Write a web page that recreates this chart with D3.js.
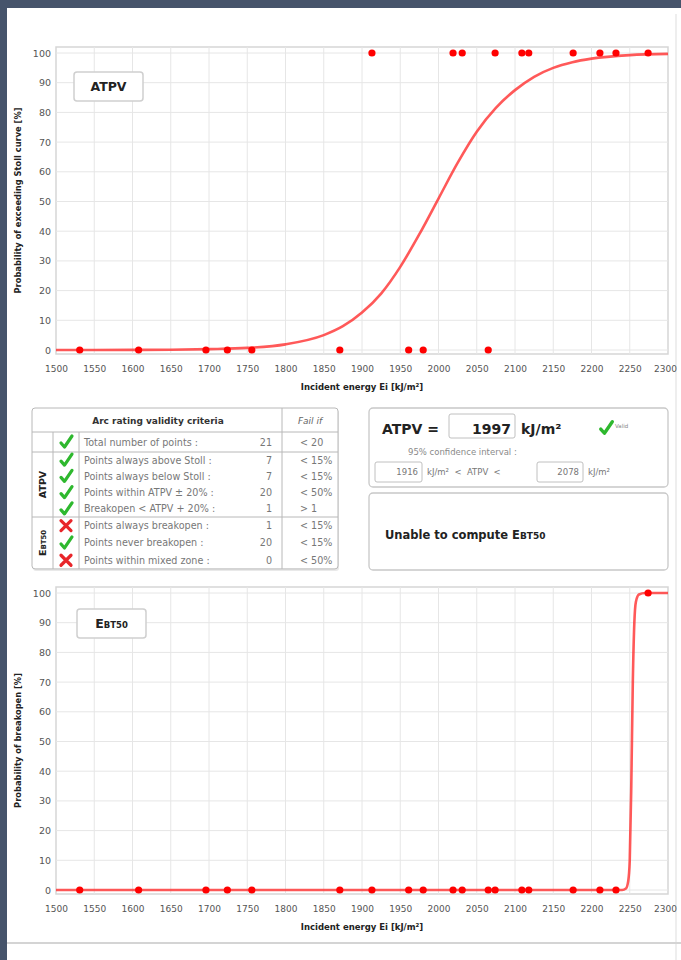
<!DOCTYPE html>
<html>
<head>
<meta charset="utf-8">
<script src="https://cdn.jsdelivr.net/npm/d3@7"></script>
<style>
  body { margin: 0; background: #fff; }
  svg { display: block; }
  text { font-family: "DejaVu Sans", Verdana, sans-serif; }
</style>
</head>
<body>
<script>
// test points: incident energy (kJ/m²) and outcome (0 / 100 %)
const energies    = [1531, 1608, 1696, 1724, 1756, 1871, 1913, 1961, 1980, 2019, 2031, 2065, 2074, 2109, 2118, 2176, 2211, 2232, 2274]
const exceedStoll = [0, 0, 0, 0, 0, 0, 100, 0, 0, 100, 100, 0, 100, 100, 100, 100, 100, 100, 100]
const breakopen   = [0, 0, 0, 0, 0, 0, 0, 0, 0, 0, 0, 0, 0, 0, 0, 0, 0, 0, 100]

// fitted curves
const stollCurveE = [1500, 1550, 1600, 1650, 1700, 1750, 1800, 1850, 1875, 1900, 1925, 1950, 1975, 2000, 2025, 2050, 2075, 2100, 2125, 2150, 2175, 2200, 2250, 2300]
const stollCurveP = [0, 0.01, 0.04, 0.1, 0.3, 0.7, 1.9, 5, 8, 12.6, 19, 28, 39, 51, 63, 73.5, 81.5, 87.5, 92, 95, 96.9, 98.1, 99.3, 99.7]
const breakCurveE = [1500, 2240, 2245, 2248, 2250, 2252, 2254, 2256, 2258, 2262, 2270, 2300]
const breakCurveP = [0, 0, 0.5, 3, 10, 35, 70, 90, 97, 99.5, 100, 100]

const xTicks = [1500, 1550, 1600, 1650, 1700, 1750, 1800, 1850, 1900, 1950, 2000, 2050, 2100, 2150, 2200, 2250, 2300]
const yTicks = [0, 10, 20, 30, 40, 50, 60, 70, 80, 90, 100]

// validity criteria table
const critLabels = ['Total number of points :', 'Points always above Stoll :', 'Points always below Stoll :',
  'Points within ATPV ± 20% :', 'Breakopen < ATPV + 20% :', 'Points always breakopen :',
  'Points never breakopen :', 'Points within mixed zone :']
const critValues = [21, 7, 7, 20, 1, 1, 20, 0]
const critLimits = ['< 20', '< 15%', '< 15%', '< 50%', '>  1', '< 15%', '< 15%', '< 50%']
const critOk     = [true, true, true, true, true, false, true, false]

const atpvValue = 1997
const atpvLow = 1916
const atpvHigh = 2078

const W = 681, H = 960
const svg = d3.select('body').append('svg').attr('width', W).attr('height', H)

// page frame
svg.append('rect').attr('width', W).attr('height', H).attr('fill', '#fff')
svg.append('rect').attr('width', W).attr('height', 8).attr('fill', '#46546b')
svg.append('rect').attr('width', 7).attr('height', H).attr('fill', '#46546b')
svg.append('line').attr('x1', 676).attr('x2', 676).attr('y1', 14).attr('y2', H)
  .attr('stroke', '#e8e8e8').attr('stroke-width', 1.5)
svg.append('line').attr('x1', 7).attr('x2', W).attr('y1', 943).attr('y2', 943)
  .attr('stroke', '#d4d4d4').attr('stroke-width', 2)

const x = d3.scaleLinear().domain([1500, 2300]).range([56, 668])

function drawChart (top, yTitle, outcome, curveE, curveP, tag) {
  const bottom = top + 307
  const y = d3.scaleLinear().domain([0, 100]).range([top + 303, top + 6])
  const g = svg.append('g')

  g.append('rect').attr('x', 56).attr('y', top).attr('width', 612).attr('height', 307)
    .attr('fill', '#fff').attr('stroke', '#d6d6d6').attr('stroke-width', 1.5)
  g.selectAll('.vg').data(xTicks.slice(1, -1)).enter().append('line')
    .attr('x1', d => x(d)).attr('x2', d => x(d)).attr('y1', top).attr('y2', bottom)
    .attr('stroke', '#e6e6e6')
  g.selectAll('.hg').data(yTicks).enter().append('line')
    .attr('x1', 56).attr('x2', 668).attr('y1', d => y(d)).attr('y2', d => y(d))
    .attr('stroke', '#e6e6e6')

  const ax = g.append('g').attr('transform', `translate(0,${bottom + 12})`)
    .call(d3.axisBottom(x).tickValues(xTicks).tickFormat(d3.format('d')).tickSize(0).tickPadding(0))
  ax.select('.domain').remove()
  ax.selectAll('text').attr('font-size', 9).attr('fill', '#555')
    .style('font-family', '"DejaVu Sans", Verdana, sans-serif')
  ax.selectAll('.tick:last-of-type text').attr('dx', -3)

  const ay = g.append('g').attr('transform', 'translate(56,0)')
    .call(d3.axisLeft(y).tickValues(yTicks).tickFormat(d3.format('d')).tickSize(0).tickPadding(5))
  ay.select('.domain').remove()
  ay.selectAll('text').attr('font-size', 9.5).attr('fill', '#555')
    .style('font-family', '"DejaVu Sans", Verdana, sans-serif')

  g.append('text').attr('x', 362).attr('y', bottom + 36).attr('text-anchor', 'middle')
    .attr('font-size', 8.5).attr('font-weight', 'bold').attr('fill', '#222')
    .text('Incident energy Ei [kJ/m²]')
  g.append('text').attr('transform', `translate(21,${(top + bottom) / 2}) rotate(-90)`)
    .attr('text-anchor', 'middle').attr('font-size', 8.3).attr('font-weight', 'bold').attr('fill', '#222')
    .text(yTitle)

  const line = d3.line().x((d, i) => x(curveE[i])).y(d => y(d)).curve(d3.curveMonotoneX)
  g.append('path').datum(curveP).attr('d', line).attr('fill', 'none')
    .attr('stroke', '#ff3030').attr('stroke-opacity', 0.8).attr('stroke-width', 2.6)

  g.selectAll('.pt').data(energies).enter().append('circle')
    .attr('cx', d => x(d)).attr('cy', (d, i) => y(outcome[i])).attr('r', 3.6)
    .attr('fill', '#ff0000')

  // tag box
  const tb = g.append('g').attr('transform', `translate(${tag.x},${top + tag.dy})`)
  tb.append('rect').attr('width', 69).attr('height', 29).attr('rx', 3)
    .attr('fill', '#fff').attr('stroke', '#cfcfcf').attr('stroke-width', 1.5)
  const tt = tb.append('text').attr('x', 34.5).attr('y', 19).attr('text-anchor', 'middle')
    .attr('font-weight', 'bold').attr('fill', '#222')
  tag.parts.forEach(p => tt.append('tspan').attr('font-size', p[1]).text(p[0]))
}

drawChart(47, 'Probability of exceeding Stoll curve [%]', exceedStoll, stollCurveE, stollCurveP,
  { x: 74, dy: 25, parts: [['ATPV', 12.5]] })
drawChart(587, 'Probability of breakopen [%]', breakopen, breakCurveE, breakCurveP,
  { x: 77, dy: 22, parts: [['E', 12.5], ['BT50', 8.5]] })

// icons
function check (g, cx, cy, s) {
  g.append('path').attr('d', `M${cx - 5 * s},${cy + 1 * s} L${cx - 1.5 * s},${cy + 5 * s} L${cx + 6 * s},${cy - 6 * s}`)
    .attr('fill', 'none').attr('stroke', '#2eb82e').attr('stroke-width', 3.2 * s)
    .attr('stroke-linecap', 'round').attr('stroke-linejoin', 'round')
}
function cross (g, cx, cy) {
  g.append('path').attr('d', `M${cx - 5},${cy - 5} L${cx + 5},${cy + 5} M${cx + 5},${cy - 5} L${cx - 5},${cy + 5}`)
    .attr('fill', 'none').attr('stroke', '#e8262a').attr('stroke-width', 3.2).attr('stroke-linecap', 'round')
}

// criteria table
const tg = svg.append('g')
const rowH = [20, 16.25, 16.25, 16.25, 16.25, 17.3, 17.3, 17.3]
const rowTop = []
let acc = 432
rowH.forEach(h => { rowTop.push(acc); acc += h })
const tBottom = acc

tg.append('rect').attr('x', 33).attr('y', 410).attr('width', 306).attr('height', tBottom - 408)
  .attr('rx', 3).attr('fill', '#e9e9e9')
tg.append('rect').attr('x', 32).attr('y', 408).attr('width', 306).attr('height', tBottom - 408)
  .attr('rx', 3).attr('fill', '#fff').attr('stroke', '#b8b8b8')
;[432, rowTop[1], rowTop[5]].forEach(yy => {
  tg.append('line').attr('x1', 32).attr('x2', 338).attr('y1', yy).attr('y2', yy).attr('stroke', '#b8b8b8')
})
;[[53, 432], [79, 432], [282, 408]].forEach(v => {
  tg.append('line').attr('x1', v[0]).attr('x2', v[0]).attr('y1', v[1]).attr('y2', tBottom).attr('stroke', '#b8b8b8')
})
tg.append('text').attr('x', 158).attr('y', 424).attr('text-anchor', 'middle')
  .attr('font-size', 9).attr('font-weight', 'bold').attr('fill', '#333').text('Arc rating validity criteria')
tg.append('text').attr('x', 310).attr('y', 424).attr('text-anchor', 'middle')
  .attr('font-size', 9).attr('font-style', 'italic').attr('fill', '#666').text('Fail if')

critLabels.forEach((lab, i) => {
  const cy = rowTop[i] + rowH[i] / 2
  if (critOk[i]) check(tg, 66, cy, 1); else cross(tg, 66, cy)
  tg.append('text').attr('x', 84).attr('y', cy + 3.5).attr('font-size', 9.6).attr('fill', '#777').text(lab)
  tg.append('text').attr('x', 272).attr('y', cy + 3.5).attr('text-anchor', 'end')
    .attr('font-size', 9.6).attr('fill', '#777').text(critValues[i])
  tg.append('text').attr('x', 300).attr('y', cy + 3.5)
    .attr('font-size', 9.6).attr('fill', '#777').text(critLimits[i])
})
const grpLabel = (txt, y0, y1, parts) => {
  const t = tg.append('text').attr('transform', `translate(46,${(y0 + y1) / 2}) rotate(-90)`)
    .attr('text-anchor', 'middle').attr('font-weight', 'bold').attr('fill', '#222')
  parts.forEach(p => t.append('tspan').attr('font-size', p[1]).text(p[0]))
}
grpLabel('ATPV', rowTop[1], rowTop[5], [['ATPV', 9.5]])
grpLabel('EBT50', rowTop[5], tBottom, [['E', 9.5], ['BT50', 7]])

// ATPV result panel
const pg = svg.append('g')
pg.append('rect').attr('x', 369).attr('y', 408).attr('width', 299).attr('height', 79).attr('rx', 4)
  .attr('fill', '#fff').attr('stroke', '#c8c8c8').attr('stroke-width', 1.3)
pg.append('text').attr('x', 382).attr('y', 434).attr('font-size', 14).attr('font-weight', 'bold')
  .attr('fill', '#222').text('ATPV =')
pg.append('rect').attr('x', 449).attr('y', 414).attr('width', 66).attr('height', 24).attr('rx', 2)
  .attr('fill', '#fff').attr('stroke', '#c0c0c0')
pg.append('text').attr('x', 511).attr('y', 434).attr('text-anchor', 'end').attr('font-size', 14)
  .attr('font-weight', 'bold').attr('fill', '#222').text(atpvValue)
pg.append('text').attr('x', 521).attr('y', 434).attr('font-size', 14).attr('font-weight', 'bold')
  .attr('fill', '#222').text('kJ/m²')
check(pg, 606, 428, 1.05)
pg.append('text').attr('x', 615).attr('y', 428).attr('font-size', 5.5).attr('fill', '#888').text('Valid')
pg.append('text').attr('x', 408).attr('y', 455).attr('font-size', 8.5).attr('fill', '#8a8a8a')
  .text('95% confidence interval :')
pg.append('rect').attr('x', 375).attr('y', 462).attr('width', 47).attr('height', 20).attr('rx', 2)
  .attr('fill', '#fff').attr('stroke', '#c0c0c0')
pg.append('text').attr('x', 418).attr('y', 475).attr('text-anchor', 'end').attr('font-size', 8.5)
  .attr('fill', '#777').text(atpvLow)
pg.append('text').attr('x', 427).attr('y', 475).attr('font-size', 8.5).attr('fill', '#777')
  .attr('xml:space', 'preserve').text('kJ/m²  <  ATPV  <')
pg.append('rect').attr('x', 537).attr('y', 462).attr('width', 46).attr('height', 20).attr('rx', 2)
  .attr('fill', '#fff').attr('stroke', '#c0c0c0')
pg.append('text').attr('x', 579).attr('y', 475).attr('text-anchor', 'end').attr('font-size', 8.5)
  .attr('fill', '#777').text(atpvHigh)
pg.append('text').attr('x', 588).attr('y', 475).attr('font-size', 8.5).attr('fill', '#777').text('kJ/m²')

// EBT50 panel
pg.append('rect').attr('x', 369).attr('y', 493).attr('width', 299).attr('height', 77).attr('rx', 4)
  .attr('fill', '#fff').attr('stroke', '#c8c8c8').attr('stroke-width', 1.3)
const ut = pg.append('text').attr('x', 385).attr('y', 539).attr('font-weight', 'bold').attr('fill', '#222')
ut.append('tspan').attr('font-size', 11.5).text('Unable to compute E')
ut.append('tspan').attr('font-size', 9).text('BT50')
</script>
</body>
</html>
